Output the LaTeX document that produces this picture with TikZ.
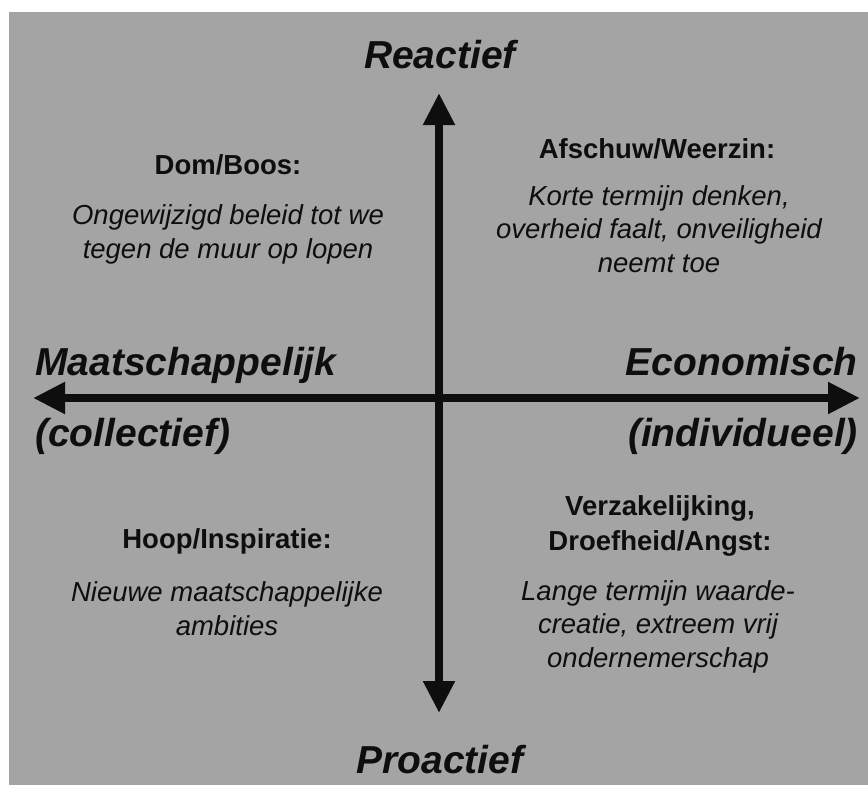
\documentclass[tikz,border=0pt]{standalone}
\usepackage{fontspec}
\setmainfont{Liberation Sans}
\usetikzlibrary{arrows.meta}
\definecolor{bg}{HTML}{A4A4A4}
\definecolor{ink}{HTML}{0E0E0E}
\tikzset{
  axislabel/.style={inner sep=0pt, text=ink, font=\fontsize{39}{44}\selectfont\bfseries\itshape},
  qtitle/.style={inner sep=0pt, text=ink, align=center, font=\fontsize{27.5}{35}\selectfont\bfseries},
  qbody/.style={inner sep=0pt, text=ink, align=center, font=\fontsize{27.5}{33.5}\selectfont\itshape},
  axis/.style={line width=8pt, draw=ink, {Triangle[length=32pt,width=30pt]}-{Triangle[length=32pt,width=30pt]}}
}
\begin{document}
\begin{tikzpicture}[x=1pt,y=-1pt]
\useasboundingbox (0,0) rectangle (868,785);
\fill[white] (0,0) rectangle (868,785);
\fill[bg] (9,12) rectangle (868,785);

\coordinate (top) at (439,93);
\coordinate (bottom) at (439,713);
\coordinate (left) at (33,398);
\coordinate (right) at (860,398);
\draw[axis] (bottom) -- (top);
\draw[axis] (left) -- (right);

\node[axislabel, anchor=base] (reactief) at (440,68) {Reactief};
\node[axislabel, anchor=base] (proactief) at (440,773) {Proactief};
\node[axislabel, anchor=base west] (maat) at (35,375) {Maatschappelijk};
\node[axislabel, anchor=base east] (econ) at (858,375) {Economisch};
\node[axislabel, anchor=base west] (coll) at (35,446) {(collectief)};
\node[axislabel, anchor=base east] (indiv) at (858,446) {(individueel)};

\node[qtitle, anchor=base] (dom) at (228,174) {Dom/Boos:};
\node[qbody, anchor=base] (domtxt) at (228,258) {Ongewijzigd beleid tot we\\tegen de muur op lopen};

\node[qtitle, anchor=base] (afsch) at (657,158) {Afschuw/Weerzin:};
\node[qbody, anchor=base] (afschtxt) at (659,272) {Korte termijn denken,\\overheid faalt, onveiligheid\\neemt toe};

\node[qtitle, anchor=base] (hoop) at (227,548) {Hoop/Inspiratie:};
\node[qbody, anchor=base] (hooptxt) at (227,635) {Nieuwe maatschappelijke\\ambities};

\node[qtitle, anchor=base] (verz) at (660,550) {Verzakelijking,\\Droefheid/Angst:};
\node[qbody, anchor=base] (verztxt) at (658,667) {Lange termijn waarde-\\creatie, extreem vrij\\ondernemerschap};
\end{tikzpicture}
\end{document}
